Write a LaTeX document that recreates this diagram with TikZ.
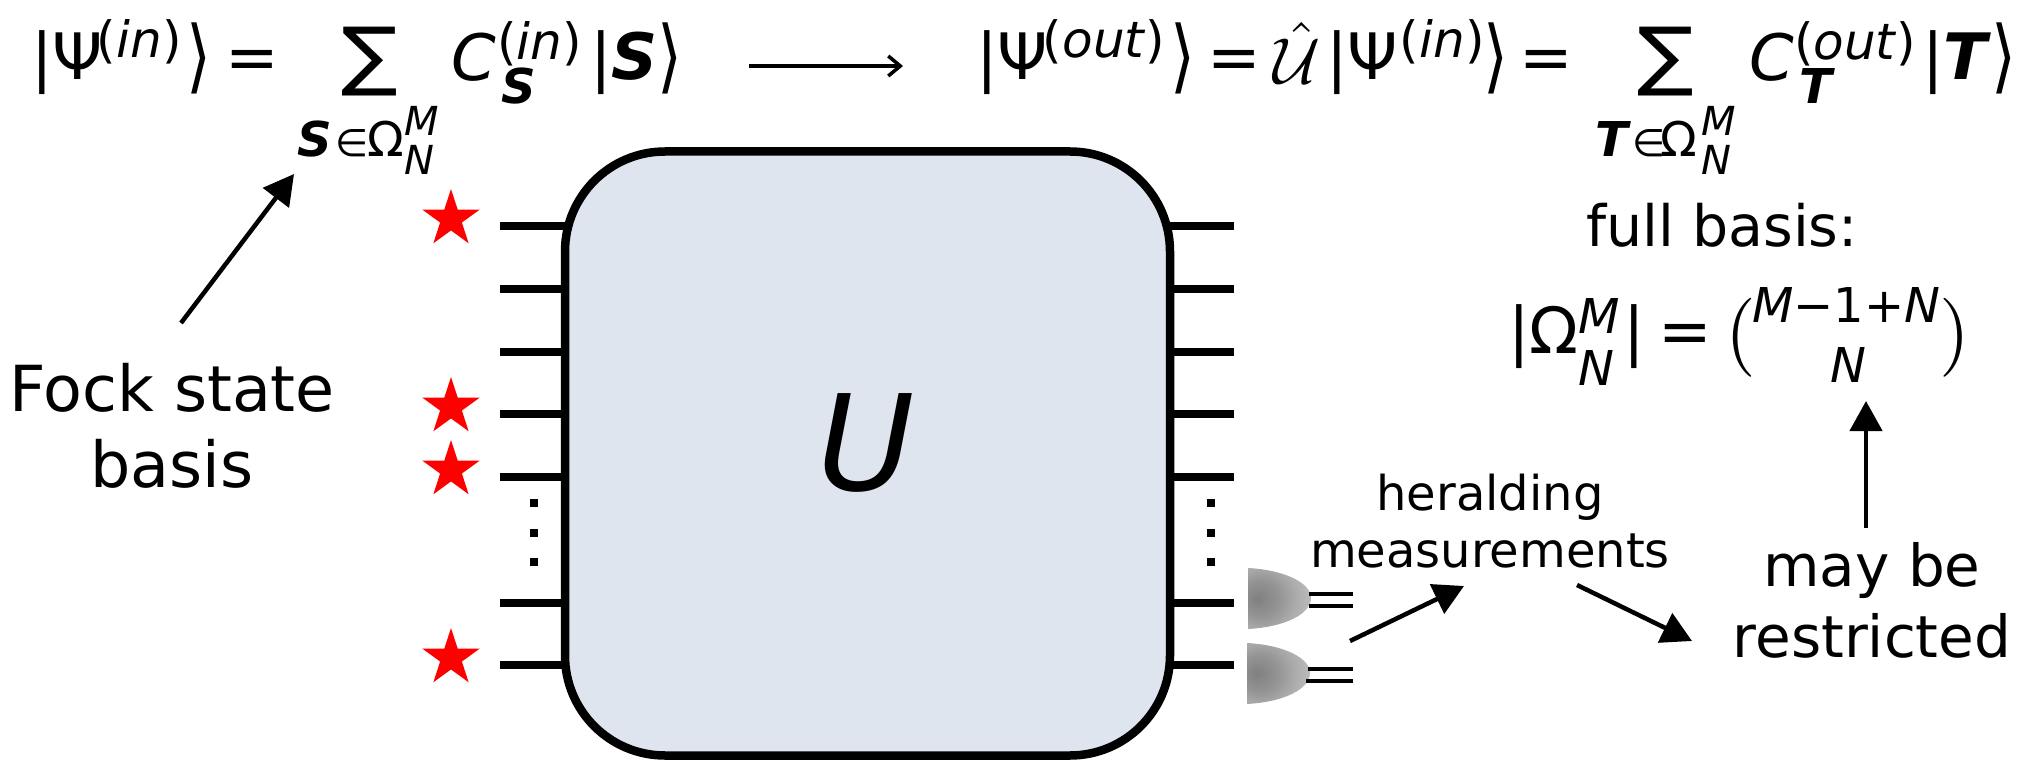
\documentclass[tikz,border=0pt]{standalone}
\usepackage{fontspec}
\setmainfont{DejaVu Sans}
\usetikzlibrary{shapes.geometric,arrows.meta}
\pgfdeclareradialshading{detshade}{\pgfpoint{-18bp}{0bp}}{color(0bp)=(black!50); color(15bp)=(black!42); color(26bp)=(black!33); color(44bp)=(black!22); color(100bp)=(black!22)}
\definecolor{boxfill}{HTML}{DEE5EF}
\newcommand{\fsz}[1]{\fontsize{#1}{#1}\selectfont}
\newcommand{\angr}{\scalebox{.8}[1]{⟩}}
\newcommand{\supr}[2]{\hspace{#1}\raisebox{22pt}{\fsz{50}#2}}
\newcommand{\bigsum}{\scalebox{1}[.9]{∑}}
\tikzset{
  lbl/.style={inner sep=0pt,outer sep=0pt,anchor=base west,font=\fsz{64}},
  big/.style={lbl,font=\fsz{64}},
  ang/.style={lbl,font=\fsz{80}},
  sumsign/.style={lbl,font=\fsz{84}},
  scr/.style={lbl,font=\fsz{48}},
  supp/.style={lbl,font=\fsz{50}},
  sscr/.style={lbl,font=\fsz{40}},
  ctr/.style={inner sep=0pt,outer sep=0pt,anchor=base},
  wire/.style={line width=8pt},
  arr/.style={line width=4.5pt,-{Triangle[length=30pt,width=32pt]}},
  redstar/.style={star,star points=5,star point ratio=2.618,fill=red,draw=none,inner sep=0pt,minimum size=60pt},
  dbl/.style={line width=4pt},
  detector/.style={shading=detshade}
}
\begin{document}
\begin{tikzpicture}[x=1pt,y=-1pt]
\useasboundingbox (0,0) rectangle (2027,762);
% box
\node[draw=black,fill=boxfill,line width=8.5pt,rounded corners=100pt,minimum width=605pt,minimum height=604pt,inner sep=0pt,outer sep=0pt] (box) at (867.5,453.5) {};
\node[ctr,font=\fsz{133}\itshape] (ulabel) at (866,490) {U};
% wires
\foreach \n/\y in {1/226,2/289,3/352,4/414,5/477,6/603,7/665}{
  \coordinate (wl\n) at (500,\y);
  \coordinate (wr\n) at (1234,\y);
  \draw[wire] (wl\n) -- (wl\n -| box.west);
  \draw[wire] (wr\n) -- (wr\n -| box.east);
}
% dots
\foreach \n/\y in {1/503,2/533,3/562}{
  \fill (530,\y-4) rectangle (538,\y+4);
  \fill (1207,\y-4) rectangle (1215,\y+4);
}
% stars
\node[redstar] (s1) at (451,219) {};
\node[redstar] (s2) at (451,407) {};
\node[redstar] (s3) at (451,470) {};
\node[redstar] (s4) at (451,658) {};
% detectors
\path[detector] (1248,568) .. controls (1285,570) and (1311,583) .. (1311,598) .. controls (1311,614) and (1285,627) .. (1248,629) -- cycle;
\path[detector] (1247,643) .. controls (1284,645) and (1310,658) .. (1310,673) .. controls (1310,689) and (1284,702) .. (1247,704) -- cycle;
\coordinate (d1a) at (1309,594); \coordinate (d1b) at (1353,594);
\coordinate (d1c) at (1309,606); \coordinate (d1d) at (1353,606);
\coordinate (d2a) at (1308,669); \coordinate (d2b) at (1353,669);
\coordinate (d2c) at (1306,681); \coordinate (d2d) at (1353,681);
\draw[dbl] (d1a) -- (d1b); \draw[dbl] (d1c) -- (d1d);
\draw[dbl] (d2a) -- (d2b); \draw[dbl] (d2c) -- (d2d);
% side labels
\node[ctr,font=\fsz{63.5}] (fock1) at (172,411) {Fock state};
\node[ctr,font=\fsz{63.5}] (fock2) at (172,487) {basis};
\node[ctr,font=\fsz{48}] (her1) at (1490,510) {heralding};
\node[ctr,font=\fsz{48}] (her2) at (1490,567) {measurements};
\node[ctr,font=\fsz{58}] (may1) at (1872,586) {may be};
\node[ctr,font=\fsz{58}] (may2) at (1872,657) {restricted};
\node[ctr,font=\fsz{57}] (full) at (1722,247) {full basis:};
% arrows
\coordinate (a1s) at (181,323); \coordinate (a1e) at (294,174);
\coordinate (a2s) at (1350,641); \coordinate (a2e) at (1464,586);
\coordinate (a3s) at (1577,585); \coordinate (a3e) at (1692,641);
\coordinate (a4s) at (1866,528); \coordinate (a4e) at (1866,401);
\coordinate (a5s) at (749,66); \coordinate (a5e) at (903,66);
\draw[arr] (a1s) -- (a1e);
\draw[arr] (a2s) -- (a2e);
\draw[arr] (a3s) -- (a3e);
\draw[arr] (a4s) -- (a4e);
\draw[line width=4.5pt,-{Straight Barb[length=12pt,width=20pt,line width=3.5pt]}] (a5s) -- (a5e);
% left equation
\node[big] (lp) at (31,80) {|Ψ\supr{-6pt}{(\textit{in})}};
\node[ang] (lpr) at (186,84) {\angr};
\node[big] (leq) at (225,80) {=};
\node[sumsign] (lsum) at (341,82) {\bigsum};
\node[big] (lc) at (451,81) {\textit{C}};
\node[supp] (lcin) at (497,60) {(\textit{in})};
\node[scr] (lcs) at (501,104) {\textbf{\textit{S}}};
\node[big] (lket) at (590,80) {|\textbf{\textit{S}}};
\node[ang] (lkr) at (657,84) {\angr};
\node[scr] (lus) at (297,157) {\textbf{\textit{S}}};
\node[lbl,font=\fsz{38}] (luel) at (335,157) {∈};
\node[scr] (luin) at (367,157) {Ω};
\node[sscr] (lum) at (404,136) {\textit{M}};
\node[sscr] (lun) at (404,175) {\textit{N}};
% right equation
\node[big] (rp) at (976,80) {|Ψ\supr{-5pt}{(\textit{out})}};
\node[ang] (rpr) at (1170,84) {\angr};
\node[big] (req) at (1207,80) {=};
\node[inner sep=0pt,outer sep=0pt,anchor=base west] (rhat) at (1273,84) {\scalebox{6.5}{$\hat{\mathcal U}$}};
\node[big] (rp2) at (1326,80) {|Ψ\supr{2pt}{(\textit{in})}};
\node[ang] (rpr2) at (1483,84) {\angr};
\node[big] (req2) at (1519,80) {=};
\node[sumsign] (rsum) at (1637,82) {\bigsum};
\node[big] (rc) at (1749,81) {\textit{C}};
\node[supp] (rcout) at (1794,60) {(\textit{out})};
\node[scr] (rct) at (1799,104) {\textbf{\textit{T}}};
\node[big] (rket) at (1922,80) {|\textbf{\textit{T}}};
\node[ang] (rkr) at (1991,84) {\angr};
\node[scr] (rus) at (1595,157) {\textbf{\textit{T}}};
\node[lbl,font=\fsz{38}] (ruel) at (1632,157) {∈};
\node[scr] (ruin) at (1660,157) {Ω};
\node[sscr] (rum) at (1701,136) {\textit{M}};
\node[sscr] (run) at (1701,175) {\textit{N}};
% binomial formula
\node[big] (ba) at (1508,353) {|Ω};
\node[scr] (bm) at (1578,333) {\textit{M}};
\node[scr] (bn) at (1578,385) {\textit{N}};
\node[big] (bb) at (1623,353) {|};
\node[big] (bc) at (1658,353) {=};
\node[inner sep=0pt,outer sep=0pt,anchor=center] (bl) at (1741,338) {\scalebox{7.9}{$($}};
\node[scr] (bt) at (1752,322) {\textit{M}−1+\textit{N}};
\node[ctr,font=\fsz{48}\itshape] (bd) at (1848,382) {N};
\node[inner sep=0pt,outer sep=0pt,anchor=center] (br) at (1955,338) {\scalebox{7.9}{$)$}};
\end{tikzpicture}
\end{document}
